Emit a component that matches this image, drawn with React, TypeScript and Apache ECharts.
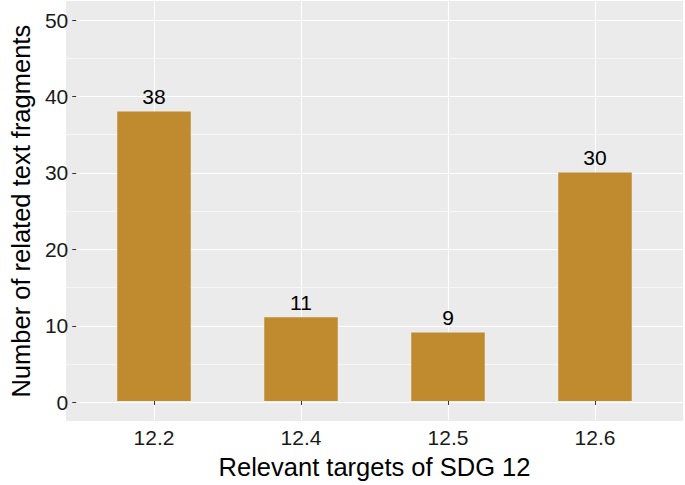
import React, { useEffect, useRef } from 'react';
import * as echarts from 'echarts';

const categories: string[] = ['12.2', '12.4', '12.5', '12.6'];
const fragmentCounts: number[] = [38, 11, 9, 30];
const yMajorMin = 0;
const yMajorMax = 50;
const yMajorStep = 10;
const yMinorMin = 5;
const yMinorMax = 45;
const xTitle = 'Relevant targets of SDG 12';
const yTitle = 'Number of related text fragments';

const FONT = "'Liberation Sans', Arial, Helvetica, sans-serif";
const BAR = '#BF8B2E';
const PANEL = '#EBEBEB';

export default function App() {
  const ref = useRef<HTMLDivElement>(null);
  useEffect(() => {
    if (!ref.current) return;
    const chart = echarts.init(ref.current, undefined, { renderer: 'svg' });
    const hiddenX = (gridIndex: number) => ({ type: 'value', gridIndex, show: false, min: 0, max: 1 });
    chart.setOption({
      animation: false,
      backgroundColor: '#FFFFFF',
      grid: [
        { left: 66, right: 2, top: 1, bottom: 64, show: true, backgroundColor: PANEL, borderWidth: 0, z: -1 },
        { left: 66, right: 2, top: 20.1, bottom: 82.7, show: false },
        { left: 66, right: 2, top: 58.2, bottom: 120.9, show: false },
        { left: 80.5, right: 16.5, top: 1, bottom: 64, show: false },
      ],
      xAxis: [
        hiddenX(0),
        hiddenX(1),
        hiddenX(2),
        {
          type: 'category',
          gridIndex: 3,
          data: categories,
          name: xTitle,
          nameLocation: 'middle',
          nameGap: 34,
          nameTextStyle: { fontFamily: FONT, fontSize: 25.5, color: '#000' },
          axisLine: { show: false },
          axisTick: { show: true, alignWithLabel: true, length: 4, lineStyle: { color: '#333333', width: 1 } },
          axisLabel: { fontFamily: FONT, fontSize: 21, color: '#1A1A1A', margin: 7 },
          splitLine: { show: true, alignWithLabel: true, lineStyle: { color: '#FFFFFF', width: 1.1 } },
        },
      ],
      yAxis: [
        { type: 'value', gridIndex: 0, show: false, min: 0, max: 1 },
        {
          type: 'value',
          gridIndex: 1,
          min: yMajorMin,
          max: yMajorMax,
          interval: yMajorStep,
          name: yTitle,
          nameLocation: 'middle',
          nameGap: 40,
          nameTextStyle: { fontFamily: FONT, fontSize: 25.5, color: '#000' },
          axisLine: { show: false },
          axisTick: { show: true, length: 4, lineStyle: { color: '#333333', width: 1 } },
          axisLabel: { fontFamily: FONT, fontSize: 21, color: '#1A1A1A', margin: 8 },
          splitLine: { show: true, lineStyle: { color: '#FFFFFF', width: 1.1 } },
        },
        {
          type: 'value',
          gridIndex: 2,
          min: yMinorMin,
          max: yMinorMax,
          interval: yMajorStep,
          axisLine: { show: false },
          axisTick: { show: false },
          axisLabel: { show: false },
          splitLine: { show: true, lineStyle: { color: '#FFFFFF', width: 0.55 } },
        },
        { type: 'value', gridIndex: 3, show: false, min: -2.5, max: 52.5 },
      ],
      series: [
        {
          type: 'bar',
          xAxisIndex: 3,
          yAxisIndex: 3,
          data: fragmentCounts,
          barWidth: '50%',
          itemStyle: { color: BAR },
          label: {
            show: true,
            position: 'top',
            distance: 4,
            fontFamily: FONT,
            fontSize: 21,
            color: '#000',
          },
          z: 5,
        },
      ],
    });
    return () => chart.dispose();
  }, []);
  return <div ref={ref} style={{ width: 685, height: 485, position: 'absolute', left: 0, top: 0 }} />;
}
